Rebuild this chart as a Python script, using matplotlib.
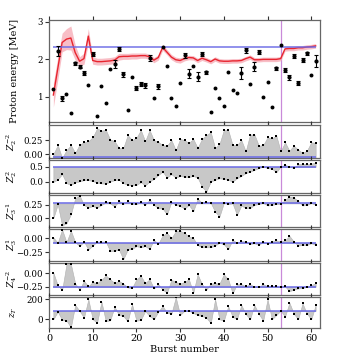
import numpy as np
import matplotlib
matplotlib.use("Agg")
import matplotlib.pyplot as plt

plt.rcParams['font.family'] = ['DejaVu Serif']
plt.rcParams['mathtext.fontset'] = 'dejavuserif'
plt.rcParams['font.size'] = 7

burst = list(range(1, 62))

energy = [1.21, 2.22, 0.96, 1.07, 0.56, 1.90, 1.80, 1.64, 1.31, 2.15,
          0.49, 1.28, 0.83, 1.75, 1.88, 2.28, 1.60, 0.64, 1.53, 1.24,
          1.34, 1.31, 2.04, 0.97, 1.28, 2.32, 1.82, 0.98, 0.76, 1.36,
          2.11, 1.62, 1.82, 1.54, 2.15, 1.66, 0.61, 1.25, 0.98, 0.77,
          1.67, 1.19, 1.10, 1.64, 2.24, 1.34, 1.81, 2.19, 0.99, 1.40,
          0.73, 1.76, 2.38, 1.71, 1.52, 2.09, 1.38, 1.99, 2.17, 1.58, 1.97]
energy_err = [0, 0.13, 0.07, 0, 0, 0.04, 0.04, 0.05, 0, 0.05,
              0, 0, 0, 0, 0.10, 0.06, 0.06, 0, 0, 0.06,
              0.06, 0.06, 0.09, 0, 0.07, 0, 0, 0, 0, 0,
              0.06, 0.12, 0, 0.12, 0.06, 0.04, 0, 0, 0, 0,
              0, 0, 0, 0.17, 0.06, 0, 0.12, 0.05, 0, 0,
              0, 0.05, 0, 0.05, 0.06, 0.05, 0.05, 0.06, 0.04, 0, 0.16]

model_mean = [1.05, 1.75, 2.45, 2.54, 2.57, 2.18, 1.95, 2.02, 2.62, 1.97,
              1.94, 1.94, 1.95, 1.96, 1.98, 2.07, 2.08, 2.08, 2.09, 2.09,
              2.10, 2.10, 2.07, 1.98, 2.05, 2.32, 2.19, 2.06, 1.99, 1.97,
              2.02, 2.05, 2.04, 1.97, 2.03, 1.99, 1.94, 2.01, 1.96, 1.95,
              1.95, 1.96, 1.96, 1.97, 2.02, 2.06, 1.99, 1.99, 2.00, 2.00,
              2.00, 2.00, 2.02, 2.28, 2.29, 2.29, 2.31, 2.31, 2.33, 2.34, 2.36]
model_sd = [0.32, 0.30, 0.25, 0.28, 0.32, 0.20, 0.12, 0.15, 0.20, 0.10,
            0.09, 0.09, 0.09, 0.09, 0.09, 0.09, 0.08, 0.08, 0.08, 0.08,
            0.07, 0.07, 0.07, 0.07, 0.07, 0.08, 0.07, 0.07, 0.07, 0.07,
            0.06, 0.06, 0.06, 0.06, 0.06, 0.06, 0.06, 0.06, 0.06, 0.06,
            0.06, 0.06, 0.06, 0.06, 0.06, 0.06, 0.06, 0.06, 0.06, 0.06,
            0.06, 0.06, 0.06, 0.06, 0.06, 0.06, 0.06, 0.06, 0.06, 0.06, 0.06]
true_energy = 2.34
marked_burst = 53

z2m2 = [0.00, 0.16, -0.07, 0.07, 0.16, 0.02, 0.17, 0.21, 0.23, 0.30,
        0.46, 0.42, 0.43, 0.26, 0.23, 0.11, 0.11, 0.34, 0.25, 0.29,
        0.43, 0.23, 0.43, 0.25, 0.22, 0.16, 0.15, 0.25, 0.07, 0.27,
        0.25, 0.20, 0.27, 0.11, 0.27, 0.34, 0.39, 0.11, 0.18, 0.43,
        0.43, 0.16, 0.16, 0.25, 0.05, 0.35, 0.35, 0.15, 0.16, 0.30,
        0.28, 0.33, 0.05, 0.21, 0.06, 0.15, 0.08, 0.02, 0.06, 0.21, 0.20]
z22 = [0.00, 0.08, 0.26, -0.04, -0.10, -0.02, 0.02, 0.06, 0.06, 0.03,
       -0.03, -0.05, -0.06, 0.01, 0.06, 0.07, -0.04, -0.10, -0.12, -0.10,
       -0.01, -0.12, 0.01, 0.10, 0.23, 0.34, 0.14, 0.26, 0.14, 0.20,
       0.17, 0.16, 0.20, 0.14, -0.16, -0.32, 0.01, 0.07, 0.12, 0.10,
       0.07, 0.01, 0.12, 0.20, 0.29, 0.34, 0.40, 0.46, 0.51, 0.46,
       0.44, 0.32, 0.51, 0.57, 0.51, 0.46, 0.59, 0.61, 0.59, 0.61, 0.64]
z3m1 = [0.00, 0.26, -0.14, -0.10, 0.07, 0.38, 0.43, 0.25, 0.20, 0.23,
        0.20, 0.25, 0.30, 0.28, 0.22, 0.33, 0.27, 0.33, 0.27, 0.27,
        0.30, 0.25, 0.35, 0.25, 0.19, 0.18, 0.07, 0.31, 0.25, 0.23,
        0.18, 0.25, 0.13, 0.37, 0.29, 0.31, 0.29, 0.12, 0.03, 0.29,
        0.27, 0.28, 0.06, 0.24, 0.19, 0.19, 0.25, 0.27, 0.29, 0.24,
        0.25, 0.27, 0.27, 0.35, 0.41, 0.39, 0.33, 0.24, 0.25, 0.29, 0.25]
z31 = [0.01, -0.08, 0.15, -0.07, 0.13, -0.07, -0.14, -0.06, -0.20, -0.13,
       -0.06, -0.06, -0.06, -0.23, -0.22, -0.20, -0.37, -0.20, -0.19, -0.14,
       -0.16, -0.14, -0.19, -0.03, -0.10, 0.05, 0.09, 0.00, 0.12, 0.13,
       0.09, 0.03, 0.00, -0.12, -0.16, -0.16, -0.16, -0.13, -0.08, -0.11,
       -0.19, -0.03, -0.08, -0.05, -0.06, -0.10, -0.09, -0.12, -0.06, -0.10,
       -0.06, -0.04, -0.06, -0.04, 0.04, -0.06, -0.13, -0.12, -0.12, -0.09, -0.12]
z4m2 = [0.01, -0.22, -0.31, 0.17, 0.17, -0.19, -0.30, -0.14, -0.24, -0.16,
        -0.18, -0.12, -0.04, -0.11, -0.18, -0.14, -0.19, -0.26, -0.27, -0.11,
        -0.05, -0.18, -0.11, -0.28, -0.20, -0.30, -0.36, -0.12, -0.16, -0.19,
        -0.16, -0.11, -0.36, -0.02, -0.20, -0.30, -0.19, -0.18, -0.19, -0.02,
        -0.11, -0.37, -0.20, -0.20, -0.24, -0.20, -0.25, -0.25, -0.20, -0.24,
        -0.24, -0.24, -0.26, -0.24, -0.33, -0.30, -0.28, -0.27, -0.25, -0.22, -0.18]
zT = [0, 75, -7, -13, -79, 141, 82, 16, 197, 0,
      -33, 174, -20, -10, 124, 42, 32, -20, 148, -13,
      -7, 82, 32, 0, 75, 131, 62, 55, 217, 42,
      85, 85, 62, 42, 32, 16, -39, 197, 0, -13,
      128, 26, 0, 141, 52, 0, 141, 52, -13, 197,
      0, 42, 85, 26, 164, 55, 0, 157, 55, 0, 141]

panel_labels = ['$Z_2^{-2}$', '$Z_2^{2}$', '$Z_3^{-1}$', '$Z_3^{1}$', '$Z_4^{-2}$', '$z_T$']
panel_values = [z2m2, z22, z3m1, z31, z4m2, zT]
panel_refs = [-0.06, 0.50, 0.28, -0.08, -0.25, 83]
panel_ylims = [(-0.07, 0.52), (-0.37, 0.73), (-0.17, 0.44), (-0.40, 0.16), (-0.40, 0.19), (-86, 220)]
panel_yticks = [[0.0, 0.25], [0.0, 0.5], [0.0, 0.25], [-0.25, 0.0], [-0.25, 0.0], [0, 200]]
panel_fmt = ['{:.2f}', '{:.1f}', '{:.2f}', '{:.2f}', '{:.2f}', '{:.0f}']

W, H = 361, 363
fig = plt.figure(figsize=(W / 100, H / 100), dpi=100)

# pixel boxes (top, bottom)
boxes = [(20, 122), (125, 158), (160, 193), (195, 227), (229, 261), (263, 295), (297, 328)]
left, right = 49, 320

axes = []
for (t, b) in boxes:
    ax = fig.add_axes([left / W, 1 - b / H, (right - left) / W, (b - t) / H])
    axes.append(ax)

x = np.array(burst)
blue = '#6a6ae6'
spine_c = '0.4'

for ax in axes:
    ax.set_xlim(0, 62)
    ax.set_xticks([0, 10, 20, 30, 40, 50, 60])
    ax.tick_params(axis='x', direction='out', top=True, bottom=True, length=3, width=0.8,
                   color='0.2', labelbottom=False)
    ax.tick_params(axis='y', direction='out', length=3, width=0.8, color='0.2', pad=1.2,
                   labelsize=6.2)
    for s in ax.spines.values():
        s.set_color(spine_c)
        s.set_linewidth(0.9)
    ax.axvline(marked_burst, color='#c98ad9', lw=0.9, zorder=1)

# top panel
ax = axes[0]
mm = np.array(model_mean)
sd = np.array(model_sd)
ax.fill_between(x, mm - sd, mm + sd, color='#f6a9b3', alpha=0.75, lw=0, zorder=2)
ax.plot(x, mm, color='#e8252f', lw=1.0, zorder=3)
ax.hlines(true_energy, x[0], x[-1], color=blue, lw=1.3, alpha=0.8, zorder=3)
e = np.array(energy)
err = np.array(energy_err)
has = err > 0
ax.scatter(x[~has], e[~has], s=8, color='black', zorder=5, linewidths=0)
ax.errorbar(x[has], e[has], yerr=err[has], fmt='o', ms=2, color='black',
            ecolor='black', elinewidth=0.8, capsize=1.6, capthick=0.8, zorder=5)
ax.set_ylim(0.33, 3.05)
ax.set_yticks([1, 2, 3])
ax.set_ylabel('Proton energy [MeV]')
ax.yaxis.set_label_coords(-0.11, 0.5)

for ax, vals, ref, yl, yt, fmt, lab in zip(axes[1:], panel_values, panel_refs, panel_ylims,
                                            panel_yticks, panel_fmt, panel_labels):
    v = np.array(vals, dtype=float)
    ax.fill_between(x, v, ref, color='#c8c8c8', lw=0.4, edgecolor='#b0b0b0', zorder=2)
    ax.hlines(ref, x[0], x[-1], color=blue, lw=1.3, alpha=0.85, zorder=3)
    ax.scatter(x, v, s=4, color='black', marker='s', linewidths=0, zorder=4)
    ax.set_ylim(*yl)
    ax.set_yticks(yt)
    ax.set_yticklabels([fmt.format(t).replace('-', '\u2212') for t in yt])
    ax.set_ylabel(lab, fontsize=6.6)
    ax.yaxis.set_label_coords(-0.112, 0.5)

axes[-1].tick_params(axis='x', labelbottom=True, pad=1.5)
axes[-1].set_xlabel('Burst number', labelpad=1)

fig.savefig('out.png', dpi=100)
